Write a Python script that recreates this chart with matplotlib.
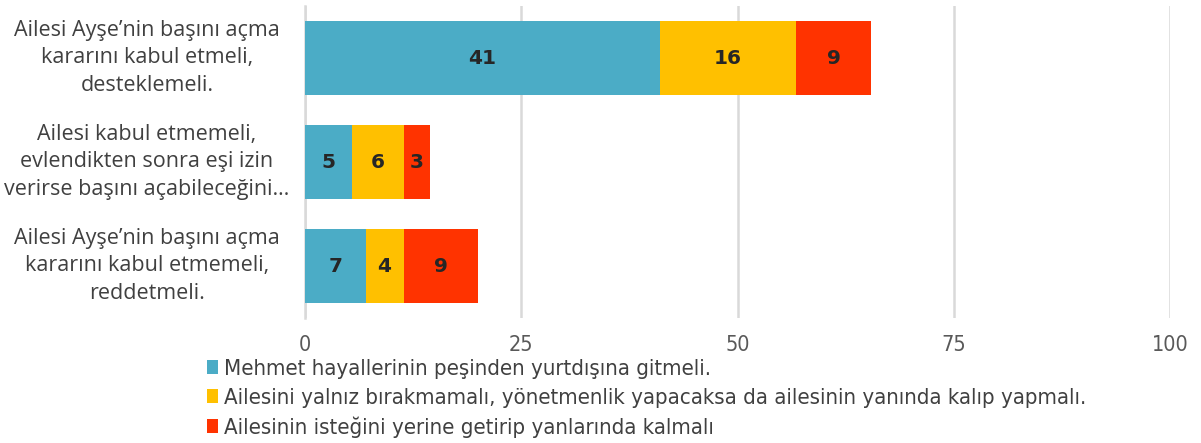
import matplotlib
matplotlib.use("Agg")
import matplotlib.pyplot as plt
from matplotlib import font_manager as fm

categories = [
    "Ailesi Ayşe’nin başını açma\nkararını kabul etmeli,\ndesteklemeli.",
    "Ailesi kabul etmemeli,\nevlendikten sonra eşi izin\nverirse başını açabileceğini…",
    "Ailesi Ayşe’nin başını açma\nkararını kabul etmemeli,\nreddetmeli.",
]
series_names = [
    "Mehmet hayallerinin peşinden yurtdışına gitmeli.",
    "Ailesini yalnız bırakmamalı, yönetmenlik yapacaksa da ailesinin yanında kalıp yapmalı.",
    "Ailesinin isteğini yerine getirip yanlarında kalmalı",
]
s1 = [41.0, 5.4, 7.0]
s2 = [15.8, 6.1, 4.4]
s3 = [8.6, 2.9, 8.6]
xticks = [0, 25, 50, 75, 100]
colors = ["#4BACC6", "#FFC000", "#FF3300"]

avail = {f.name for f in fm.fontManager.ttflist}
label_font = "Open Sans" if "Open Sans" in avail else "DejaVu Sans"

fig = plt.figure(figsize=(12.01, 4.43), dpi=100)
ax = fig.add_axes([305/1201, 1-318/443, 865/1201, 312/443])

ypos = list(range(len(categories)))
left = [0, 0, 0]
for vals, c, name in zip([s1, s2, s3], colors, series_names):
    bars = ax.barh(ypos, vals, left=left, height=0.71, color=c, label=name, zorder=3)
    ax.bar_label(bars, labels=[f"{v:.0f}" for v in vals], label_type="center",
                 fontsize=14.5, fontweight="bold", color="#262626", family="DejaVu Sans")
    left = [l + v for l, v in zip(left, vals)]

ax.set_xlim(0, 100)
ax.set_ylim(2.5, -0.5)
ax.set_xticks(xticks)
ax.set_xticklabels([str(t) for t in xticks], fontsize=15.5, color="#595959",
                   family="DejaVu Sans", fontstretch="condensed")
ax.set_yticks(ypos)
ax.set_yticklabels([])
ytrans = ax.get_yaxis_transform()
for y, cat in zip(ypos, categories):
    ax.text(-158/865, y, cat, transform=ytrans, ha="center", va="center",
            fontsize=15.5, color="#404040", family=label_font, linespacing=1.42,
            clip_on=False)
ax.tick_params(axis="y", length=0)
ax.tick_params(axis="x", length=0, pad=12)
ax.grid(axis="x", color="#D9D9D9", linewidth=1.8, zorder=0)
for sp in ["top", "right", "bottom"]:
    ax.spines[sp].set_visible(False)
ax.spines["left"].set_color("#D9D9D9")
ax.spines["left"].set_linewidth(1.8)
ax.spines["left"].set_zorder(1)

handles, labels = ax.get_legend_handles_labels()
leg = fig.legend(handles, labels, loc="upper left", bbox_to_anchor=(207/1201, 1-359/443),
                 frameon=False, ncol=1, handlelength=0.5, handleheight=0.6,
                 handletextpad=0.25, labelspacing=0.4, borderpad=0, borderaxespad=0,
                 prop={"family": "DejaVu Sans", "size": 15.9, "stretch": "condensed"})
for t in leg.get_texts():
    t.set_color("#404040")

fig.savefig("out.png", dpi=100)
